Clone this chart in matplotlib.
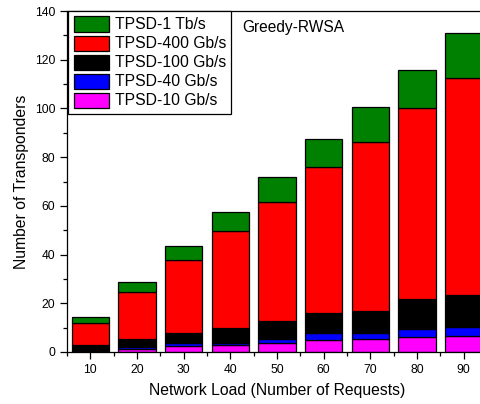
import matplotlib.pyplot as plt
import numpy as np

plt.rcParams['font.family'] = ['Liberation Sans', 'DejaVu Sans']

# network load (number of requests)
carga = [10, 20, 30, 40, 50, 60, 70, 80, 90]

# transponders per line rate, stacked bottom -> top
tpsd_10g = [0.5, 1.4, 2.5, 2.7, 3.7, 4.9, 5.2, 6.2, 6.7]
tpsd_40g = [0.2, 0.8, 1.1, 1.1, 1.6, 2.8, 2.7, 3.3, 3.7]
tpsd_100g = [2.2, 3.0, 4.3, 6.2, 7.6, 8.5, 9.1, 12.2, 13.1]
tpsd_400g = [9.1, 19.4, 29.8, 39.8, 48.7, 59.8, 69.4, 78.6, 89.1]
tpsd_1t = [2.3, 4.1, 6.0, 7.8, 10.3, 11.5, 14.3, 15.3, 18.3]

series = [
    ('TPSD-10 Gb/s', tpsd_10g, '#FF00FF'),
    ('TPSD-40 Gb/s', tpsd_40g, '#0000FF'),
    ('TPSD-100 Gb/s', tpsd_100g, '#000000'),
    ('TPSD-400 Gb/s', tpsd_400g, '#FF0000'),
    ('TPSD-1 Tb/s', tpsd_1t, '#008000'),
]

fig = plt.figure(figsize=(4.8, 4.04), dpi=100)
ax = fig.add_axes([67/480, 52/404, 420/480, 341/404])

base = np.zeros(len(carga))
handles = []
for nome, valores, cor in series:
    h = ax.bar(carga, valores, width=8, bottom=base, color=cor,
               edgecolor='black', linewidth=0.9, label=nome)
    handles.append(h)
    base = base + np.array(valores)

ax.set_xlim(5, 95)
ax.set_ylim(0, 140)
ax.set_xticks(carga)
ax.set_xticks(np.arange(5, 96, 10), minor=True)
ax.set_yticks(np.arange(0, 141, 20))
ax.set_yticks(np.arange(10, 140, 20), minor=True)
ax.tick_params(which='major', direction='out', length=5, width=0.9, labelsize=8.7)
ax.tick_params(which='minor', direction='out', length=3, width=0.9)
for s in ax.spines.values():
    s.set_linewidth(0.9)

ax.set_xlabel('Network Load (Number of Requests)', fontsize=11.3, labelpad=5)
ax.set_ylabel('Number of Transponders', fontsize=11.3, labelpad=4)

leg = ax.legend(handles[::-1], [s[0] for s in series][::-1],
                loc='upper left', bbox_to_anchor=(0.003, 1.0),
                fontsize=11.3, frameon=True, fancybox=False, framealpha=1,
                edgecolor='black', borderpad=0.35, labelspacing=0.2,
                handlelength=2.25, handleheight=1.1, handletextpad=0.35,
                borderaxespad=0)
leg.get_frame().set_linewidth(0.9)

ax.text(0.418, 0.953, 'Greedy-RWSA', transform=ax.transAxes,
        fontsize=11.2, va='center', ha='left')

plt.savefig('out.png', dpi=100)
